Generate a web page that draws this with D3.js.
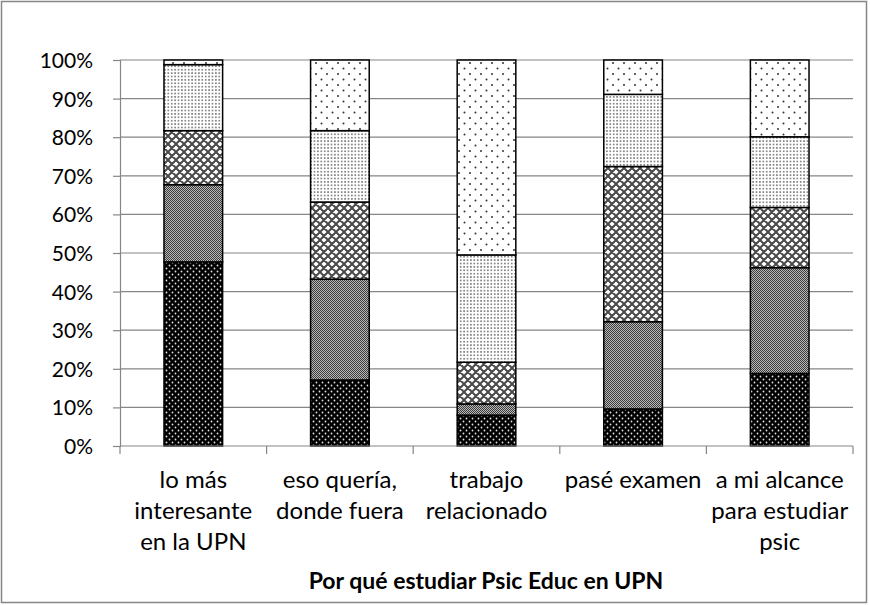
<!DOCTYPE html>
<html>
<head>
<meta charset="utf-8">
<script src="https://cdn.jsdelivr.net/npm/d3@7"></script>
<style>
  body { margin: 0; background: #fff; }
  text { font-family: Lato, "Liberation Sans", sans-serif; fill: #000; }
</style>
</head>
<body>
<svg id="chart" width="870" height="605"></svg>
<script>
// categories (multi-line labels)
var categories = ["lo más interesante en la UPN", "eso quería, donde fuera", "trabajo relacionado", "pasé examen", "a mi alcance para estudiar psic"];
var categoryLines = [["lo más", "interesante", "en la UPN"], ["eso quería,", "donde fuera"], ["trabajo", "relacionado"], ["pasé examen"], ["a mi alcance", "para estudiar", "psic"]];

// series values in percent, bottom to top
var serie1 = [47.7, 17.1, 8.0, 9.6, 18.8];
var serie2 = [20.0, 26.1, 2.9, 22.6, 27.4];
var serie3 = [14.0, 20.0, 10.8, 40.2, 15.6];
var serie4 = [17.1, 18.5, 27.8, 18.7, 18.3];
var serie5 = [1.2, 18.3, 50.5, 8.9, 19.9];

var tickValues = [0, 10, 20, 30, 40, 50, 60, 70, 80, 90, 100];
var axisTitle = "Por qué estudiar Psic Educ en UPN";

var svg = d3.select("#chart");

// outer border
svg.append("rect")
    .attr("x", 1.5).attr("y", 1.5)
    .attr("width", 865).attr("height", 601)
    .style("fill", "#fff").style("stroke", "#868686").style("stroke-width", 1.5);

// fill patterns (one per series)
var defs = svg.append("defs");

var p1 = defs.append("pattern").attr("id", "pat1").attr("patternUnits", "userSpaceOnUse")
    .attr("width", 6).attr("height", 6);
p1.append("rect").attr("width", 6).attr("height", 6).style("fill", "#000");
p1.append("circle").attr("cx", 1.5).attr("cy", 1.5).attr("r", 0.9).style("fill", "#e0e0e0");
p1.append("circle").attr("cx", 4.5).attr("cy", 4.5).attr("r", 0.9).style("fill", "#e0e0e0");

var p2 = defs.append("pattern").attr("id", "pat2").attr("patternUnits", "userSpaceOnUse")
    .attr("width", 2).attr("height", 2);
p2.append("rect").attr("width", 2).attr("height", 2).style("fill", "#b8b8b8");
p2.append("rect").attr("width", 1).attr("height", 1).style("fill", "#3c3c3c");
p2.append("rect").attr("x", 1).attr("y", 1).attr("width", 1).attr("height", 1).style("fill", "#3c3c3c");

var p3 = defs.append("pattern").attr("id", "pat3").attr("patternUnits", "userSpaceOnUse")
    .attr("width", 8).attr("height", 8);
p3.append("rect").attr("width", 8).attr("height", 8).style("fill", "#fff");
p3.append("path").attr("d", "M0,0L8,8M8,0L0,8M-1,7L1,9M7,-1L9,1M-1,1L1,-1M7,9L9,7")
    .style("stroke", "#4a4a4a").style("stroke-width", 2);

var p4 = defs.append("pattern").attr("id", "pat4").attr("patternUnits", "userSpaceOnUse")
    .attr("width", 3.4).attr("height", 3.4);
p4.append("rect").attr("width", 3.4).attr("height", 3.4).style("fill", "#fff");
p4.append("circle").attr("cx", 1.7).attr("cy", 1.7).attr("r", 0.9).style("fill", "#6a6a6a");

var p5 = defs.append("pattern").attr("id", "pat5").attr("patternUnits", "userSpaceOnUse")
    .attr("width", 11).attr("height", 11);
p5.append("rect").attr("width", 11).attr("height", 11).style("fill", "#fff");
p5.append("circle").attr("cx", 2.5).attr("cy", 2.5).attr("r", 1).style("fill", "#333");
p5.append("circle").attr("cx", 8).attr("cy", 8).attr("r", 1).style("fill", "#333");

// scales
var x = d3.scaleBand().domain(categories).range([120, 853]).paddingInner(0.6).paddingOuter(0.3);
var y = d3.scaleLinear().domain([0, 100]).range([446, 60]);

// gridlines
svg.append("g").selectAll("line").data(tickValues.slice(1)).enter().append("line")
    .attr("x1", 120).attr("x2", 853)
    .attr("y1", function(d) { return y(d); }).attr("y2", function(d) { return y(d); })
    .style("stroke", "#868686").style("stroke-width", 1.2);

// stack data
var rows = categories.map(function(c, i) {
    return { cat: c, s1: serie1[i], s2: serie2[i], s3: serie3[i], s4: serie4[i], s5: serie5[i] };
});
var keys = ["s1", "s2", "s3", "s4", "s5"];
var stacked = d3.stack().keys(keys)(rows);

svg.append("g").selectAll("g").data(stacked).enter().append("g")
    .style("fill", function(d, i) { return "url(#pat" + (i + 1) + ")"; })
  .selectAll("rect").data(function(d) { return d; }).enter().append("rect")
    .attr("x", function(d) { return x(d.data.cat); })
    .attr("width", x.bandwidth())
    .attr("y", function(d) { return y(d[1]); })
    .attr("height", function(d) { return y(d[0]) - y(d[1]); })
    .style("stroke", "#000").style("stroke-width", 1.5);

// y axis
var yAxis = svg.append("g").attr("transform", "translate(120,0)")
    .call(d3.axisLeft(y).tickValues(tickValues).tickSize(7).tickPadding(20)
        .tickFormat(function(d) { return d + "%"; }));
yAxis.select(".domain").style("stroke", "#868686").style("stroke-width", 1.2);
yAxis.selectAll(".tick line").style("stroke", "#868686").style("stroke-width", 1.2);
yAxis.selectAll("text").style("font-size", "21px").style("font-family", "Lato")
    .attr("dy", "0.36em");

// x axis line with boundary ticks
var xAxis = svg.append("g").attr("transform", "translate(0,446)");
xAxis.append("line").attr("x1", 120).attr("x2", 853)
    .style("stroke", "#868686").style("stroke-width", 1.2);
var bounds = categories.map(function(c) { return x(c) - x.step() * x.paddingInner() / 2; });
bounds.push(853);
bounds[0] = 120;
xAxis.selectAll(".btick").data(bounds).enter().append("line")
    .attr("x1", function(d) { return d; }).attr("x2", function(d) { return d; })
    .attr("y1", 0).attr("y2", 8)
    .style("stroke", "#868686").style("stroke-width", 1.2);

// category labels
var labels = svg.append("g").selectAll("text").data(categories).enter().append("text")
    .attr("text-anchor", "middle")
    .attr("transform", function(d) { return "translate(" + (x(d) + x.bandwidth() / 2) + ",488)"; })
    .style("font-size", "24px");
labels.each(function(d, i) {
    var t = d3.select(this);
    categoryLines[i].forEach(function(line, j) {
        t.append("tspan").attr("x", 0).attr("dy", j === 0 ? 0 : 31).text(line);
    });
});

// axis title
svg.append("text")
    .attr("transform", "translate(486,589)")
    .attr("text-anchor", "middle")
    .style("font-size", "23px").style("font-weight", "bold")
    .text(axisTitle);
</script>
</body>
</html>
